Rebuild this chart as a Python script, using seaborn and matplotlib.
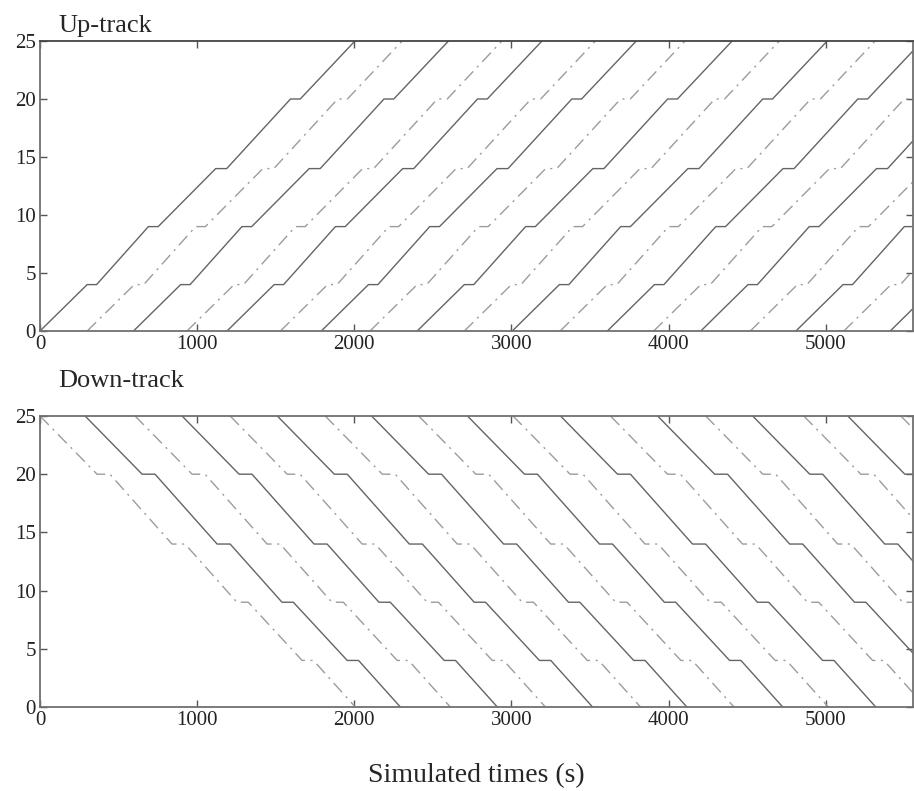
import matplotlib
matplotlib.use('Agg')
import matplotlib.pyplot as plt
import numpy as np
import pandas as pd
import seaborn as sns

# station positions (km) along each run, and time offsets (s) from the train's start
up_dist = [0, 4, 4, 9, 9, 14, 14, 20, 20, 25]
up_time = [0, 300, 360, 690, 752, 1118, 1188, 1594, 1656, 2004]
down_dist = [25, 20, 20, 14, 14, 9, 9, 4, 4, 0]
down_time = [0, 363, 445, 840, 923, 1253, 1325, 1668, 1740, 2006]

# departure times
up_solid_start = [0, 595, 1190, 1790, 2400, 3005, 3610, 4205, 4810, 5410]
up_dash_start = [300, 935, 1530, 2100, 2700, 3310, 3905, 4520, 5115]
down_solid_start = [287, 904, 1510, 2110, 2720, 3312, 3930, 4535, 5140]
down_dash_start = [0, 605, 1210, 1815, 2410, 3010, 3630, 4236, 4860, 5478]

x_ticks = [0, 1000, 2000, 3000, 4000, 5000]
y_ticks = [0, 5, 10, 15, 20, 25]

sns.set_style('ticks')
plt.rcParams['font.family'] = ['Liberation Serif', 'DejaVu Serif']

solid_color = '#646464'
dash_color = '#9c9c9c'
dash_style = (0, (9, 4, 1.5, 4))


def trains(starts, dist, times):
    rows = []
    for i, s in enumerate(starts):
        for d, t in zip(dist, times):
            rows.append({'train': i, 'time': s + t, 'dist': d})
    return pd.DataFrame(rows)


fig = plt.figure(figsize=(9.14, 7.91), dpi=100)
ax_up = fig.add_axes([40 / 914, 1 - 331 / 791, 873 / 914, 290 / 791])
ax_dn = fig.add_axes([40 / 914, 1 - 707 / 791, 873 / 914, 291 / 791])

panels = [
    (ax_up, up_solid_start, up_dash_start, up_dist, up_time),
    (ax_dn, down_solid_start, down_dash_start, down_dist, down_time),
]

for ax, solid, dash, dist, times in panels:
    df_s = trains(solid, dist, times)
    df_d = trains(dash, dist, times)
    for _, g in df_d.groupby('train'):
        sns.lineplot(data=g, x='time', y='dist', ax=ax, color=dash_color,
                     linewidth=1.0, linestyle=dash_style, estimator=None, sort=False)
    for _, g in df_s.groupby('train'):
        sns.lineplot(data=g, x='time', y='dist', ax=ax, color=solid_color,
                     linewidth=1.0, estimator=None, sort=False)
    ax.set_xlim(0, 5555)
    ax.set_ylim(0, 25)
    ax.set_xticks(x_ticks)
    ax.set_yticks(y_ticks)
    ax.set_xlabel('')
    ax.set_ylabel('')
    ax.tick_params(direction='in', top=True, right=True, length=5, width=1,
                   color='#555555', labelsize=15, pad=3, labelcolor='#222222')
    for sp in ax.spines.values():
        sp.set_visible(True)
        sp.set_color('#707070')
        sp.set_linewidth(1.3)

ax_up.spines['top'].set_color('#444444')

fig.text(58 / 914, 1 - 32 / 791, 'Up-track', fontsize=19, va='baseline', ha='left')
fig.text(58 / 914, 1 - 387 / 791, 'Down-track', fontsize=19, va='baseline', ha='left')
fig.text(476 / 914, 1 - 776 / 791, 'Simulated times (s)', fontsize=20,
         va='center', ha='center')

fig.savefig('out.png', dpi=100)
